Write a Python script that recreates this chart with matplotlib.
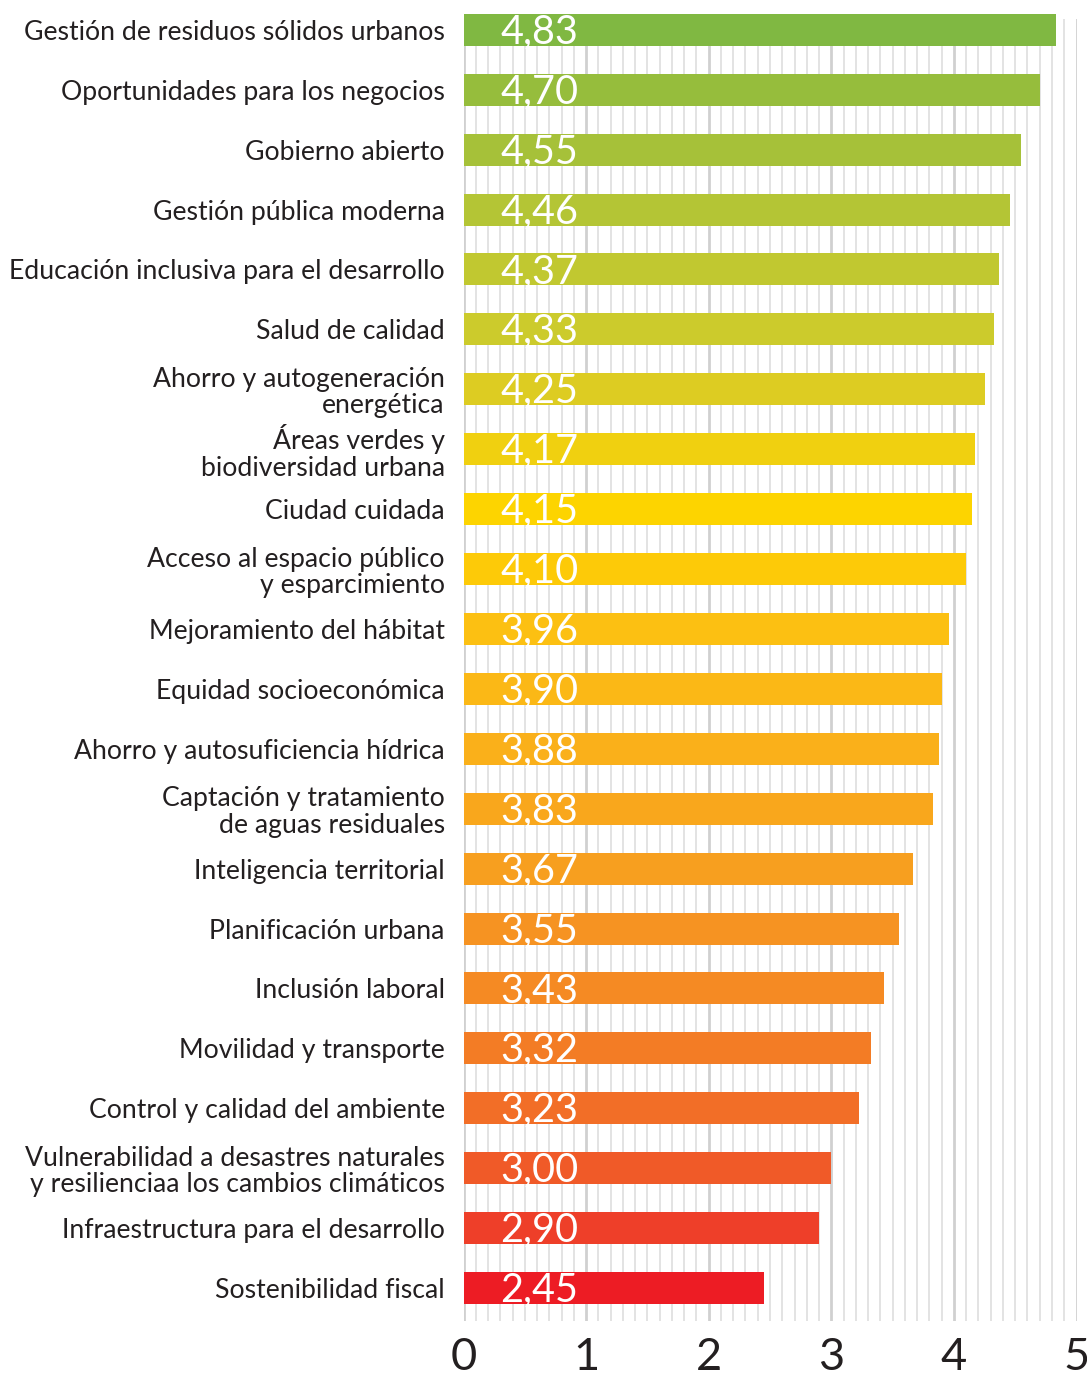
import matplotlib
matplotlib.use("Agg")
import matplotlib.pyplot as plt
from matplotlib.ticker import MultipleLocator

plt.rcParams['font.family'] = ['Lato', 'DejaVu Sans']

categories = [
    "Gestión de residuos sólidos urbanos",
    "Oportunidades para los negocios",
    "Gobierno abierto",
    "Gestión pública moderna",
    "Educación inclusiva para el desarrollo",
    "Salud de calidad",
    "Ahorro y autogeneración\nenergética",
    "Áreas verdes y\nbiodiversidad urbana",
    "Ciudad cuidada",
    "Acceso al espacio público\ny esparcimiento",
    "Mejoramiento del hábitat",
    "Equidad socioeconómica",
    "Ahorro y autosuficiencia hídrica",
    "Captación y tratamiento\nde aguas residuales",
    "Inteligencia territorial",
    "Planificación urbana",
    "Inclusión laboral",
    "Movilidad y transporte",
    "Control y calidad del ambiente",
    "Vulnerabilidad a desastres naturales\ny resilienciaa los cambios climáticos",
    "Infraestructura para el desarrollo",
    "Sostenibilidad fiscal",
]
values = [4.83, 4.70, 4.55, 4.46, 4.37, 4.33, 4.25, 4.17, 4.15, 4.10, 3.96,
          3.90, 3.88, 3.83, 3.67, 3.55, 3.43, 3.32, 3.23, 3.00, 2.90, 2.45]
value_labels = ["4,83", "4,70", "4,55", "4,46", "4,37", "4,33", "4,25", "4,17",
                "4,15", "4,10", "3,96", "3,90", "3,88", "3,83", "3,67", "3,55",
                "3,43", "3,32", "3,23", "3,00", "2,90", "2,45"]
colors = ["#80B842", "#96BD3C", "#A6C139", "#B4C535", "#C1C830", "#CCCB2C",
          "#DDCC22", "#F0D010", "#FDD400", "#FDCA08", "#FCC012", "#FBB816",
          "#FAB01A", "#F9A71C", "#F79F1F", "#F69322", "#F58A23", "#F37C25",
          "#F26E27", "#F05A28", "#EE3F29", "#ED1C24"]
xticks = [0, 1, 2, 3, 4, 5]

fig = plt.figure(figsize=(10.87, 13.77), dpi=100)
ax = fig.add_axes([463.5 / 1087, 1 - 1321 / 1377, 613 / 1087, 1302 / 1377])

ypos = list(range(len(categories)))
bars = ax.barh(ypos, values, height=0.535, color=colors, zorder=3)
for b in bars:
    b.set_clip_on(False)

for y, lab in zip(ypos, value_labels):
    ax.annotate(lab, (0.3, y), xytext=(0, -1.5), textcoords="offset points",
                color="white", fontsize=28.5, va="center", ha="left", zorder=4)

ax.set_xlim(0, 5)
ax.set_ylim(21.55, -0.18)
ax.set_yticks(ypos)
ax.set_yticklabels(categories, fontsize=19.2, color="#231F20", linespacing=1.08)
ax.set_xticks(xticks)
ax.set_xticklabels([str(t) for t in xticks], fontsize=32.5, color="#231F20")
ax.xaxis.set_minor_locator(MultipleLocator(0.1))
ax.tick_params(axis="y", length=0, pad=13.5)
ax.tick_params(axis="x", which="both", length=0, pad=11.5)
ax.grid(True, axis="x", which="minor", color="#E3E3E3", linewidth=1.4, zorder=0)
ax.grid(True, axis="x", which="major", color="#D0D0D0", linewidth=2.0, zorder=0)
ax.set_axisbelow(True)
for s in ax.spines.values():
    s.set_visible(False)

fig.savefig("out.png", dpi=100)
